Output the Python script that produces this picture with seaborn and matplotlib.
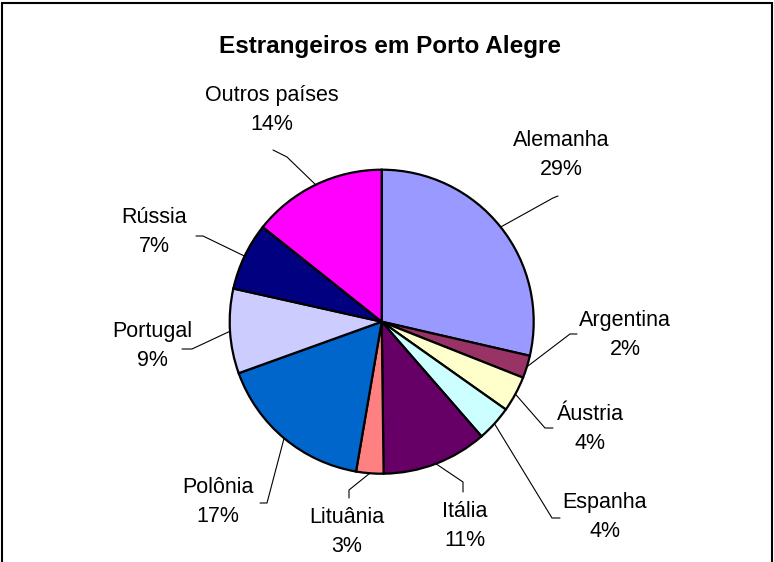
import numpy as np
import seaborn as sns
import matplotlib.pyplot as plt
from matplotlib.patches import Rectangle

# dados (percentual de estrangeiros por país)
countries = ['Alemanha', 'Argentina', 'Áustria', 'Espanha', 'Itália',
             'Lituânia', 'Polônia', 'Portugal', 'Rússia', 'Outros países']
shares = [28.6, 2.4, 3.8, 3.8, 11.2, 2.9, 16.8, 9.0, 7.2, 14.3]
colors = ['#9999FF', '#993366', '#FFFFCC', '#CCFFFF', '#660066',
          '#FF8080', '#0066CC', '#CCCCFF', '#000080', '#FF00FF']

# posições dos rótulos (pixels) e cotovelos das linhas de chamada
label_pos = [(561, 155), (625, 335), (590, 429), (605, 517), (465, 526),
             (347, 532), (218, 502), (152, 346), (154, 232), (272, 110)]
elbows = [((553, 198), (558, 196)), ((570, 334), (577, 334)), ((545, 428), (553, 428)),
          ((552, 518), (560, 518)), ((463, 482), (463, 492)), ((349, 490), (349, 498)),
          ((267, 503), (260, 503)), ((192, 349), (182, 349)), ((203, 236), (196, 236)),
          ((287, 157), (273, 150))]

sns.set_theme(style='white')
plt.rcParams['font.family'] = ['Liberation Sans', 'DejaVu Sans']

W, H = 774, 562
fig = plt.figure(figsize=(W / 100, H / 100), dpi=100)
ax = fig.add_axes([0, 0, 1, 1])

cx, cy, r = 381.7, H - 321.7, 152
wedges, _ = ax.pie(shares, colors=colors, startangle=90, counterclock=False,
                   center=(cx, cy), radius=r,
                   wedgeprops=dict(edgecolor='black', linewidth=1.6))
ax.set_xlim(0, W)
ax.set_ylim(0, H)
ax.set_aspect('equal')
ax.axis('off')

for w, name, val, (lx, ly), (e1, e2) in zip(wedges, countries, shares, label_pos, elbows):
    mid = np.deg2rad((w.theta1 + w.theta2) / 2)
    px, py = cx + r * np.cos(mid), cy + r * np.sin(mid)
    ax.plot([px, e1[0], e2[0]], [py, H - e1[1], H - e2[1]], color='black', lw=0.8)
    ax.text(lx, H - ly, f'{name}\n{val:.0f}%', ha='center', va='center',
            fontsize=15.5, linespacing=1.5, color='black')

ax.text(390, H - 47, 'Estrangeiros em Porto Alegre', ha='center', va='center',
        fontsize=17.5, fontweight='bold', color='black')

# moldura do gráfico
fig.patches.append(Rectangle((2 / W, -0.05), (W - 4.5) / W, 1.05 - 2.5 / H,
                             transform=fig.transFigure, fill=False,
                             edgecolor='black', linewidth=1.5))

plt.savefig('out.png', dpi=100)
